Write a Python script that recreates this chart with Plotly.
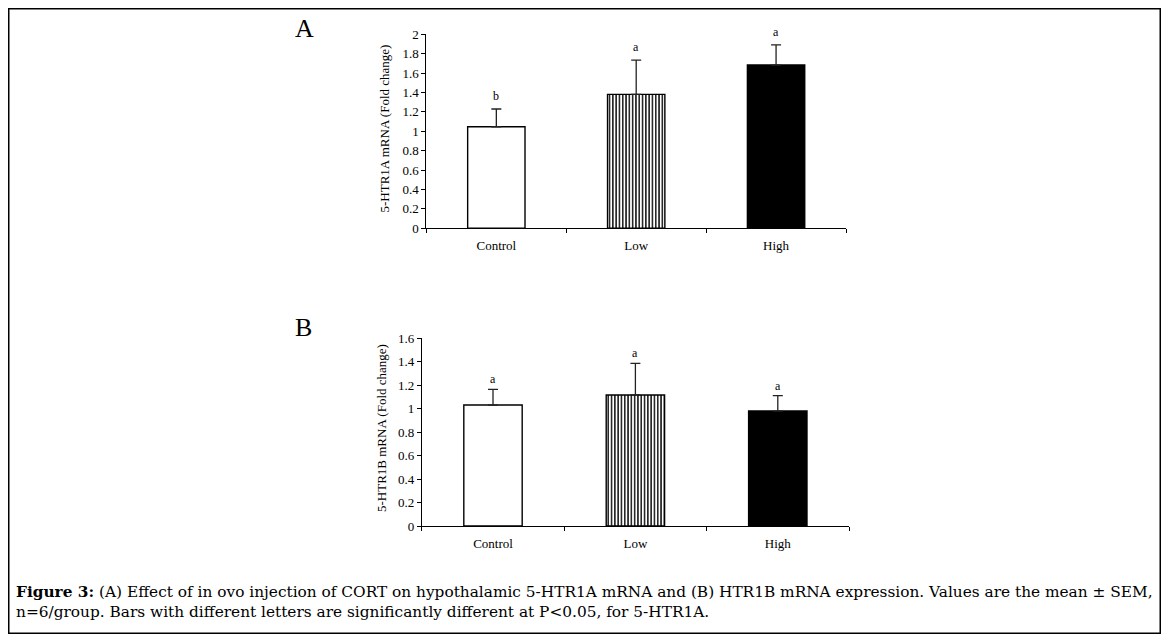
import plotly.graph_objects as go

categories = ["Control", "Low", "High"]
a_means = [1.047, 1.381, 1.683]
a_sem = [0.183, 0.353, 0.207]
a_letters = ["b", "a", "a"]
b_means = [1.031, 1.117, 0.980]
b_sem = [0.134, 0.270, 0.131]
b_letters = ["a", "a", "a"]
a_ticks = [0, 0.2, 0.4, 0.6, 0.8, 1, 1.2, 1.4, 1.6, 1.8, 2]
b_ticks = [0, 0.2, 0.4, 0.6, 0.8, 1, 1.2, 1.4, 1.6]

FONT = "Liberation Serif"
W, H = 1153, 626  # page has 8px body margin; 1153+16 = 1169, 626+16 = 642
OX, OY = 8, 8


def px(sx):
    return (sx - OX) / W


def py(sy):
    return 1 - (sy - OY) / H


fills = ["white", "white", "black"]
shapes = ["", "|", ""]

fig = go.Figure()


def add_panel(means, sem, letters, xa, ya, yshift):
    for i, cat in enumerate(categories):
        fig.add_trace(go.Bar(
            x=[cat], y=[means[i]], xaxis=xa, yaxis=ya, width=0.41,
            marker=dict(
                color=fills[i],
                line=dict(color="black", width=1.4),
                pattern=dict(shape=shapes[i], fgcolor="black", bgcolor="white",
                             size=3.3, solidity=0.42, fillmode="replace"),
            ),
            error_y=dict(type="data", symmetric=False, array=[sem[i]],
                         arrayminus=[0], color="#222222", thickness=1.3, width=5),
            showlegend=False, hoverinfo="skip",
        ))
        fig.add_annotation(
            x=cat, y=means[i] + sem[i], xref=xa, yref=ya, text=letters[i],
            showarrow=False, yanchor="bottom", yshift=yshift,
            font=dict(family=FONT, size=12, color="black"),
        )


add_panel(a_means, a_sem, a_letters, "x", "y", 4)
add_panel(b_means, b_sem, b_letters, "x2", "y2", 1)

axcommon = dict(showline=True, linecolor="black", linewidth=1, ticks="outside",
                tickcolor="black", ticklen=4, showgrid=False, zeroline=False,
                tickfont=dict(family=FONT, size=13, color="black"))

fig.update_layout(
    width=W, height=H, margin=dict(l=0, r=0, t=0, b=0, autoexpand=False),
    paper_bgcolor="white", plot_bgcolor="white", barmode="overlay",
    xaxis=dict(domain=[px(426.4), px(846)], anchor="y", tickson="boundaries",
               ticklabelstandoff=5, **axcommon),
    yaxis=dict(domain=[py(228.3), py(34.3)], anchor="x", range=[0, 2],
               tickvals=a_ticks, ticktext=[f"{t:g}" for t in a_ticks], **axcommon),
    xaxis2=dict(domain=[px(421.8), px(849)], anchor="y2", tickson="boundaries",
                ticklabelstandoff=5, **axcommon),
    yaxis2=dict(domain=[py(526), py(338.3)], anchor="x2", range=[0, 1.6],
                tickvals=b_ticks, ticktext=[f"{t:g}" for t in b_ticks], **axcommon),
)

fig.add_shape(type="rect", xref="paper", yref="paper",
              x0=px(8.75), x1=px(1160.25), y0=py(633.25), y1=py(8.75),
              line=dict(color="black", width=1.5))

fig.add_annotation(text="5-HTR1A mRNA (Fold change)", textangle=-90, xref="paper", yref="paper",
                   x=px(383.5), y=py(129), xanchor="center", yanchor="middle", showarrow=False,
                   font=dict(family=FONT, size=13, color="black"))
fig.add_annotation(text="5-HTR1B mRNA (Fold change)", textangle=-90, xref="paper", yref="paper",
                   x=px(381), y=py(428), xanchor="center", yanchor="middle", showarrow=False,
                   font=dict(family=FONT, size=13, color="black"))

fig.add_annotation(text="A", xref="paper", yref="paper", x=px(304), y=py(28.5),
                   xanchor="center", yanchor="middle", showarrow=False,
                   font=dict(family=FONT, size=26, color="black"))
fig.add_annotation(text="B", xref="paper", yref="paper", x=px(303), y=py(327.5),
                   xanchor="center", yanchor="middle", showarrow=False,
                   font=dict(family=FONT, size=26, color="black"))

caption = ("<b>Figure 3:</b> (A) Effect of in ovo injection of CORT on hypothalamic 5-HTR1A mRNA "
           "and (B) HTR1B mRNA expression. Values are the mean ± SEM,<br>"
           "n=6/group. Bars with different letters are significantly different at P&lt;0.05, for 5-HTR1A.")
fig.add_annotation(text=caption, xref="paper", yref="paper", x=px(14), y=py(602),
                   xanchor="left", yanchor="middle", align="left", showarrow=False,
                   font=dict(family="DejaVu Serif", size=15.35, color="black"))

fig.write_html("out.html")
